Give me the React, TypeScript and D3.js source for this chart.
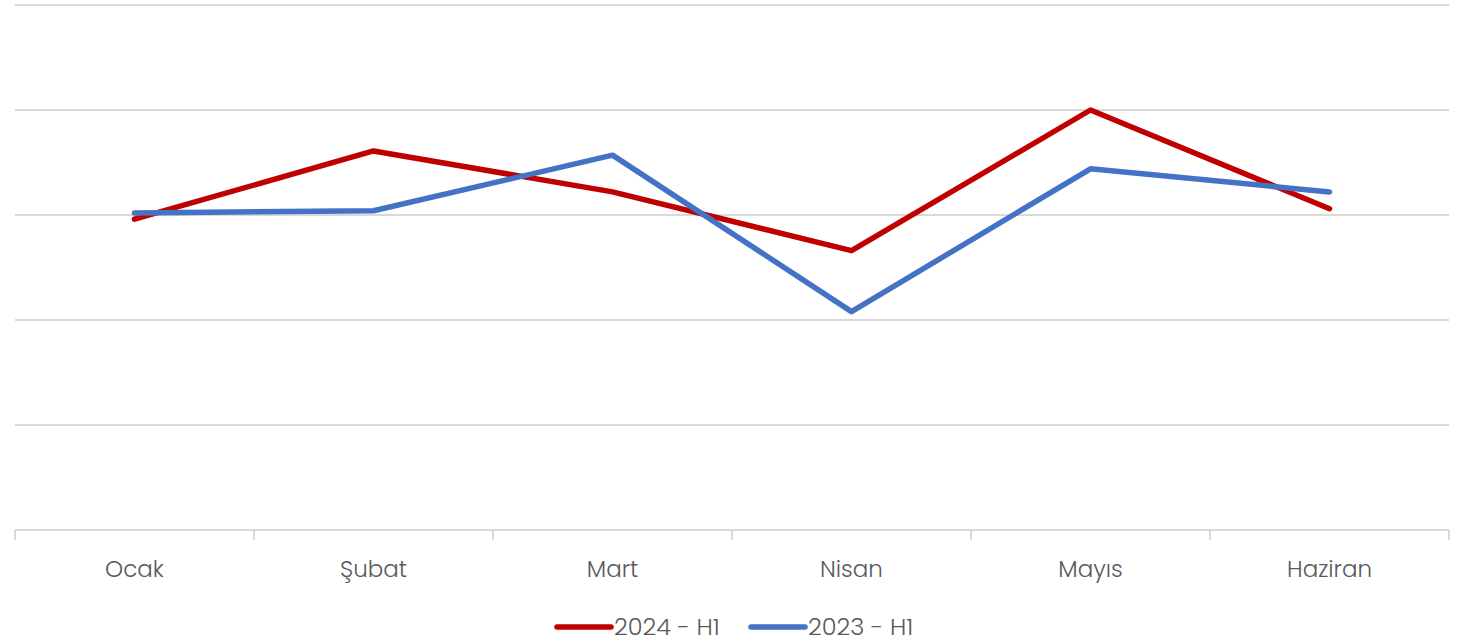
import React from "react";
import * as d3 from "d3";

const categories = ["Ocak", "Şubat", "Mart", "Nisan", "Mayıs", "Haziran"];
const series2024 = [2.96, 3.61, 3.22, 2.66, 4.0, 3.06];
const series2023 = [3.02, 3.04, 3.57, 2.08, 3.44, 3.22];
const yTicks = [0, 1, 2, 3, 4, 5];
const seriesNames = ["2024 - H1", "2023 - H1"];
const colors = ["#C00000", "#4472C4"];

export default function App() {
  const W = 1479, H = 640;
  const left = 15, right = 1449, top = 5, bottom = 530;
  const x = d3.scaleBand<string>().domain(categories).range([left, right]).padding(0);
  const y = d3.scaleLinear().domain([0, 5]).range([bottom, top]);
  const line = d3
    .line<number>()
    .x((_, i) => (x(categories[i]) as number) + x.bandwidth() / 2)
    .y((d) => y(d));
  const font = "Poppins, 'Open Sans', Lato, sans-serif";
  const legendItems = [
    { name: seriesNames[0], color: colors[0], x0: 557 },
    { name: seriesNames[1], color: colors[1], x0: 751 },
  ];
  return (
    <svg width={W} height={H} style={{ position: "absolute", left: 0, top: 0, background: "#fff" }}>
      {yTicks.slice(1).map((t) => (
        <line key={t} x1={left} x2={right} y1={y(t)} y2={y(t)} stroke="#d9d9d9" strokeWidth={2} />
      ))}
      <line x1={left} x2={right} y1={bottom} y2={bottom} stroke="#d9d9d9" strokeWidth={2} />
      {categories.map((c) => (
        <line key={"t" + c} x1={x(c)} x2={x(c)} y1={bottom} y2={bottom + 10} stroke="#d9d9d9" strokeWidth={2} />
      ))}
      <line x1={right} x2={right} y1={bottom} y2={bottom + 10} stroke="#d9d9d9" strokeWidth={2} />
      {categories.map((c) => (
        <text
          key={"l" + c}
          x={(x(c) as number) + x.bandwidth() / 2}
          y={577}
          textAnchor="middle"
          fontFamily={font}
          fontSize={23}
          fontWeight={300}
          fill="#595959"
        >
          {c}
        </text>
      ))}
      <path d={line(series2024) || ""} fill="none" stroke={colors[0]} strokeWidth={5.5} strokeLinejoin="round" strokeLinecap="round" />
      <path d={line(series2023) || ""} fill="none" stroke={colors[1]} strokeWidth={5.5} strokeLinejoin="round" strokeLinecap="round" />
      {legendItems.map((l) => (
        <g key={l.name}>
          <line x1={l.x0} x2={l.x0 + 54} y1={627} y2={627} stroke={l.color} strokeWidth={5.5} strokeLinecap="round" />
          <text x={l.x0 + 57} y={635} fontFamily={font} fontSize={24} fontWeight={300} fill="#595959">
            {l.name}
          </text>
        </g>
      ))}
    </svg>
  );
}
